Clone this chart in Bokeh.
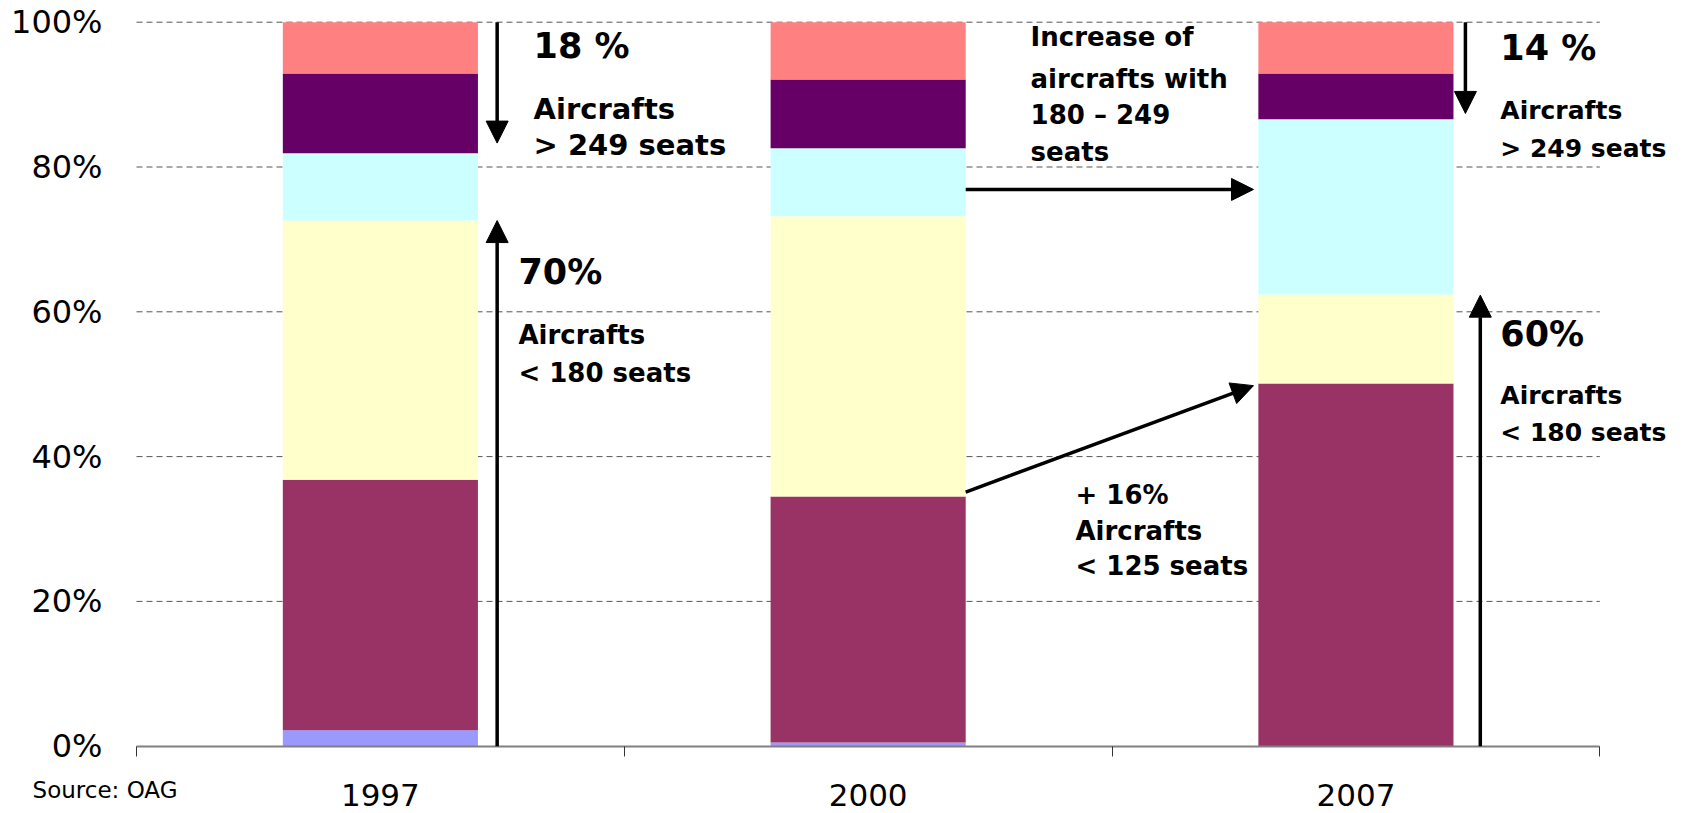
from bokeh.plotting import figure
from bokeh.models import (ColumnDataSource, Range1d, FixedTicker, PrintfTickFormatter,
                          Arrow, NormalHead, Label)
from bokeh.embed import file_html
from bokeh.resources import INLINE

# ---- data (share of fleet, % per seat band, bottom to top) ----
years = ["1997", "2000", "2007"]
band_1 = [2.2, 0.5, 0.0]      # lavender (smallest)
band_2 = [34.6, 34.0, 50.1]   # maroon  (< 125 seats)
band_3 = [35.8, 38.7, 12.3]   # light yellow
band_4 = [9.3, 9.4, 24.2]     # light cyan (180 - 249 seats)
band_5 = [11.0, 9.5, 6.3]     # dark purple
band_6 = [7.1, 7.9, 7.1]      # salmon (largest)
y_ticks = [0, 20, 40, 60, 80, 100]

colors = ["#9999FF", "#993366", "#FFFFCC", "#CCFFFF", "#660066", "#FF8080"]
names = ["band_1", "band_2", "band_3", "band_4", "band_5", "band_6"]

xs = [i + 0.5 for i in range(len(years))]
n_cat = len(years)
src = ColumnDataSource(dict(x=xs, band_1=band_1, band_2=band_2, band_3=band_3,
                            band_4=band_4, band_5=band_5, band_6=band_6))

W, H = 1682, 813
PX_L, PX_R = 136.0, 1599.3      # plot area left / right in pixels
PX_0, PX_100 = 745.7, 21.7      # pixel rows of 0% and 100%
ux = (PX_R - PX_L) / n_cat
uy = (PX_0 - PX_100) / 100.0

p = figure(width=W, height=H, output_backend="svg", toolbar_location=None,
           x_range=Range1d(-PX_L / ux, (W - PX_L) / ux),
           y_range=Range1d(-(H - PX_0) / uy, PX_0 / uy),
           min_border=0)
p.outline_line_color = None
p.background_fill_color = "white"
p.border_fill_color = "white"

FONT = "DejaVu Sans"

# dashed horizontal grid lines, limited to the plot area
grid_vals = [t for t in y_ticks if t > 0]
p.xgrid.grid_line_color = None
p.ygrid.grid_line_color = None
p.segment(x0=[0] * len(grid_vals), x1=[n_cat] * len(grid_vals), y0=grid_vals, y1=grid_vals,
          line_color="#555555", line_dash="6 4", line_width=1)

p.vbar_stack(names, x="x", width=0.4, fill_color=colors, line_color=None, source=src)

# y axis (placed at x = 0)
p.yaxis.fixed_location = 0
p.yaxis.ticker = FixedTicker(ticks=y_ticks)
p.yaxis.formatter = PrintfTickFormatter(format="%d%%")
p.yaxis.axis_line_color = None
p.yaxis.major_tick_line_color = None
p.yaxis.minor_tick_line_color = None
p.yaxis.major_label_standoff = 28
p.yaxis.major_label_text_font = FONT
p.yaxis.major_label_text_font_size = "32px"
p.yaxis.major_label_text_color = "black"

# x axis (placed at y = 0)
p.xaxis.fixed_location = 0
p.xaxis.bounds = (0, n_cat)
p.xaxis.ticker = FixedTicker(ticks=xs, minor_ticks=list(range(n_cat + 1)))
p.xaxis.major_label_overrides = {x: y for x, y in zip(xs, years)}
p.xaxis.major_tick_in = 0
p.xaxis.major_tick_out = 0
p.xaxis.minor_tick_in = 0
p.xaxis.minor_tick_out = 10
p.xaxis.minor_tick_line_color = "#333333"
p.xaxis.minor_tick_line_width = 1
p.xaxis.axis_line_color = "#808080"
p.xaxis.axis_line_width = 2
p.xaxis.major_label_standoff = 28
p.xaxis.major_label_text_font = FONT
p.xaxis.major_label_text_font_size = "31px"
p.xaxis.major_label_text_color = "black"

# arrows
def arrow(x0, y0, x1, y1):
    p.add_layout(Arrow(end=NormalHead(size=22, fill_color="black", line_color="black"),
                       x_start=x0, y_start=y0, x_end=x1, y_end=y1,
                       line_width=3.5, line_color="black"))

arrow(0.7394, 100, 0.7394, 83.3)
arrow(0.7394, 0, 0.7394, 72.6)
arrow(1.70, 76.9, 2.29, 76.9)
arrow(1.70, 35.1, 2.29, 49.8)
arrow(2.7245, 100, 2.7245, 87.4)
arrow(2.755, 0, 2.755, 62.3)

def label(x, y, text, size, bold=True):
    p.add_layout(Label(x=x, y=y, text=text, text_font=FONT, text_font_size=f"{size}px",
                       text_font_style="bold" if bold else "normal",
                       text_baseline="middle", text_align="left", text_color="black"))

# 1997 annotations
label(0.814, 96.7, "18 %", 35)
label(0.814, 88.0, "Aircrafts", 29)
label(0.814, 83.0, "> 249 seats", 29)
label(0.783, 65.5, "70%", 35)
label(0.783, 56.8, "Aircrafts", 26)
label(0.783, 51.6, "< 180 seats", 26)

# 2000 annotations
label(1.833, 97.9, "Increase of", 26)
label(1.833, 92.2, "aircrafts with", 26)
label(1.833, 87.2, "180 \u2013 249", 26)
label(1.833, 82.1, "seats", 26)
label(1.925, 34.7, "+ 16%", 26)
label(1.925, 29.7, "Aircrafts", 26)
label(1.925, 24.9, "< 125 seats", 26)

# 2007 annotations
label(2.796, 96.4, "14 %", 35)
label(2.796, 87.8, "Aircrafts", 25)
label(2.796, 82.6, "> 249 seats", 25)
label(2.796, 57.0, "60%", 35)
label(2.796, 48.4, "Aircrafts", 25)
label(2.796, 43.3, "< 180 seats", 25)

# source note
label(-0.213, -6.1, "Source: OAG", 23, bold=False)

open("out.html", "w").write(file_html(p, INLINE))
